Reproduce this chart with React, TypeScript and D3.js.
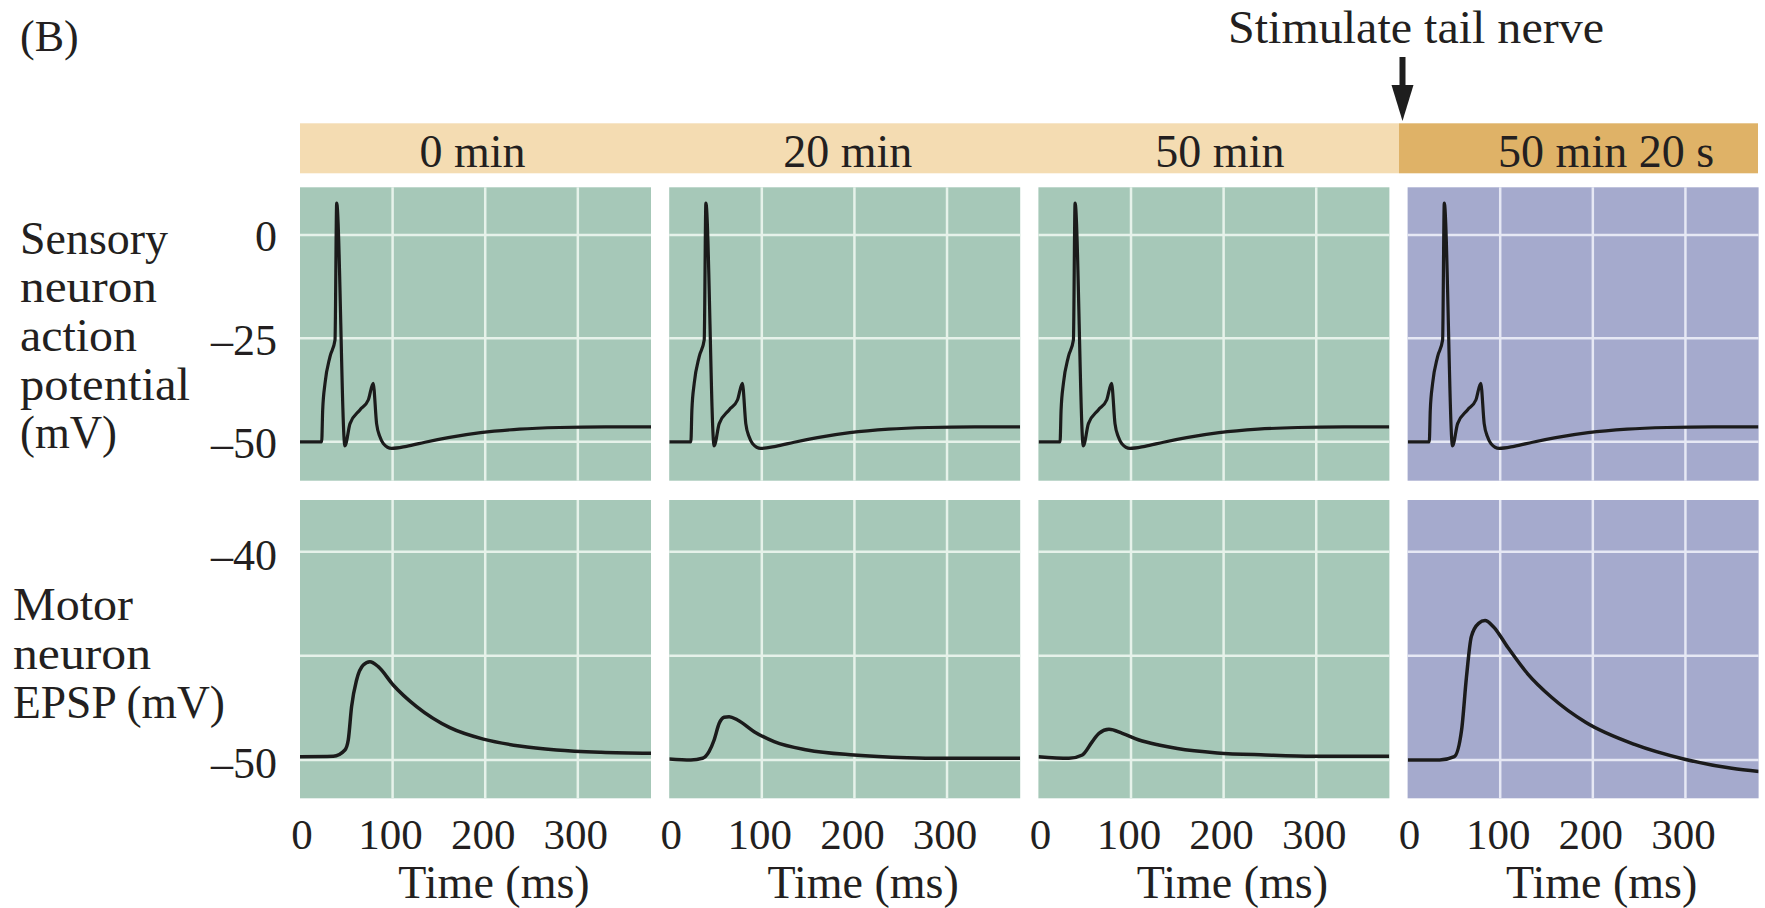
import React, { useEffect, useRef } from 'react';
import * as d3 from 'd3';

// header labels, one per recording
const panelLabels = ['0 min', '20 min', '50 min', '50 min 20 s'];
const timeTicks = [0, 100, 200, 300];
const apTickLabels = [0, -25, -50];
const epspTickLabels = [-40, -50];
const epspGridValues = [-40, -45, -50];

// sensory neuron action potential, [ms, mV] (same trace in each panel)
const actionPotential = [
  [0, -50], [23.4, -50], [24.5, -42.3], [27, -35.9], [32.4, -29.4], [37.8, -25.4],
  [39.6, 7.7], [48.5, -51], [54, -45.6], [64.7, -42.3], [73.7, -39.9], [79, -35.9],
  [82.7, -45.6], [86.3, -48.8], [89.9, -50.4], [98.9, -51.6], [115, -51.1],
  [135, -50.1], [160, -49.0], [195, -47.8], [237, -46.95], [280, -46.55],
  [330, -46.4], [379, -46.4],
];

// motor neuron EPSP, [ms, mV]
const epsp0min = [
  [0, -49.84], [36, -49.82], [48.5, -49.52], [52.1, -49.04], [55.7, -47.44], [61.1, -46.16],
  [68.3, -45.44], [75.5, -45.28], [84.5, -45.52], [100.6, -46.4], [125.9, -47.44],
  [161.8, -48.45], [198, -49.0], [237, -49.33], [277, -49.52], [325, -49.63], [379, -49.68],
];
const epsp20min = [
  [0, -49.95], [23.4, -50], [36, -49.92], [43, -49.6], [48.5, -49.04], [54, -48.24],
  [59.3, -47.95], [64.7, -47.92], [73.8, -48.08], [91.7, -48.64], [113.3, -49.12],
  [149, -49.52], [199.6, -49.76], [257, -49.89], [293, -49.92], [379, -49.92],
];
const epsp50min = [
  [0, -49.84], [33, -49.92], [47.4, -49.76], [58.2, -49.12], [65.4, -48.72], [76.2, -48.53],
  [90.6, -48.72], [108.6, -49.04], [130, -49.28], [150, -49.45], [193, -49.66],
  [245, -49.76], [297, -49.82], [379, -49.82],
];
const epsp50min20s = [
  [0, -50], [34.6, -50], [50.4, -49.84], [58.3, -48.56], [63.6, -46], [68.8, -44.08],
  [76.7, -43.44], [83.6, -43.31], [92.6, -43.6], [108.3, -44.6], [129.4, -45.85],
  [155.7, -47.0], [192.6, -48.2], [245, -49.25], [298, -49.95], [350, -50.4],
  [379.4, -50.55],
];
const epspTraces = [epsp0min, epsp20min, epsp50min, epsp50min20s];

function App() {
  const ref = useRef(null);

  useEffect(() => {
    const svg = d3.select(ref.current);
    svg.selectAll('*').remove();

    const font = '"Liberation Serif", "Times New Roman", serif';
    const ink = '#231f20';
    const left = 300;
    const panelW = 351;
    const step = 369.2;
    const apTop = 187.3, apBottom = 480.7;
    const epTop = 500, epBottom = 798.3;

    const x = d3.scaleLinear().domain([0, 379]).range([0, panelW]);
    const yAp = d3.scaleLinear().domain([-59.4, 11.5]).range([apBottom, apTop]);
    const yEp = d3.scaleLinear().domain([-51.84, -37.52]).range([epBottom, epTop]);

    const txt = (g, s, px, py, size, anchor = 'start') =>
      g.append('text')
        .attr('x', px).attr('y', py)
        .attr('font-family', font).attr('font-size', size)
        .attr('fill', ink).attr('text-anchor', anchor)
        .text(s);

    // (B) and stimulus arrow
    txt(svg, '(B)', 20, 51, 44);
    txt(svg, 'Stimulate tail nerve', 1416, 43, 46, 'middle')
      .attr('textLength', 376).attr('lengthAdjust', 'spacingAndGlyphs');
    svg.append('rect').attr('x', 1399.5).attr('y', 57).attr('width', 6).attr('height', 32).attr('fill', '#1e1e1e');
    svg.append('path').attr('d', 'M1391.5,85 L1413.5,85 L1402.5,121 Z').attr('fill', '#1e1e1e');

    // header bar
    svg.append('rect').attr('x', left).attr('y', 123.3).attr('width', 1399 - left).attr('height', 50)
      .attr('fill', '#f4dcb2');
    svg.append('rect').attr('x', 1399).attr('y', 123.3).attr('width', 1758 - 1399).attr('height', 50)
      .attr('fill', '#dfb267');
    const labelShift = [-3, 3, 6, 23];
    panelLabels.forEach((lab, i) => {
      txt(svg, lab, left + i * step + panelW / 2 + labelShift[i], 166.5, 46, 'middle');
    });

    // y-axis titles (widths follow the original lettering)
    const sensoryLines = [['Sensory', 148], ['neuron', 137], ['action', 117], ['potential', 170], ['(mV)', 97]];
    sensoryLines.forEach(([s, w], i) => {
      txt(svg, s, 20, 253.5 + i * 48.7, 46).attr('textLength', w).attr('lengthAdjust', 'spacingAndGlyphs');
    });
    const motorLines = [['Motor', 120], ['neuron', 138], ['EPSP (mV)', 212]];
    motorLines.forEach(([s, w], i) => {
      txt(svg, s, 13, 620 + i * 49, 46).attr('textLength', w).attr('lengthAdjust', 'spacingAndGlyphs');
    });

    // y tick labels
    apTickLabels.forEach((v) => {
      txt(svg, v === 0 ? '0' : '\u2013' + Math.abs(v), 277, yAp(v) + 1, 44, 'end').attr('dy', '0.35em');
    });
    epspTickLabels.forEach((v) => {
      txt(svg, '\u2013' + Math.abs(v), 277, yEp(v) + 3, 44, 'end').attr('dy', '0.35em');
    });

    const apLine = d3.line().x((d) => x(d[0])).y((d) => yAp(d[1])).curve(d3.curveMonotoneX);
    const epLine = d3.line().x((d) => x(d[0])).y((d) => yEp(d[1])).curve(d3.curveMonotoneX);

    panelLabels.forEach((_, i) => {
      const x0 = left + i * step;
      const g = svg.append('g').attr('transform', `translate(${x0},0)`);
      const fill = i === 3 ? '#a5aacd' : '#a6c8b8';
      const grid = i === 3 ? '#e6e8f4' : '#e6f2ea';

      const clipId = `clip-${i}`;
      const cp = svg.append('clipPath').attr('id', clipId);
      cp.append('rect').attr('x', 0).attr('y', apTop).attr('width', panelW).attr('height', apBottom - apTop);
      cp.append('rect').attr('x', 0).attr('y', epTop).attr('width', panelW).attr('height', epBottom - epTop);

      g.append('rect').attr('x', 0).attr('y', apTop).attr('width', panelW).attr('height', apBottom - apTop).attr('fill', fill);
      g.append('rect').attr('x', 0).attr('y', epTop).attr('width', panelW).attr('height', epBottom - epTop).attr('fill', fill);

      // grid
      timeTicks.filter((t) => t > 0).forEach((t) => {
        g.append('line').attr('x1', x(t)).attr('x2', x(t)).attr('y1', apTop).attr('y2', apBottom)
          .attr('stroke', grid).attr('stroke-width', 2.5);
        g.append('line').attr('x1', x(t)).attr('x2', x(t)).attr('y1', epTop).attr('y2', epBottom)
          .attr('stroke', grid).attr('stroke-width', 2.5);
      });
      apTickLabels.forEach((v) => {
        g.append('line').attr('x1', 0).attr('x2', panelW).attr('y1', yAp(v)).attr('y2', yAp(v))
          .attr('stroke', grid).attr('stroke-width', 2.5);
      });
      epspGridValues.forEach((v) => {
        g.append('line').attr('x1', 0).attr('x2', panelW).attr('y1', yEp(v)).attr('y2', yEp(v))
          .attr('stroke', grid).attr('stroke-width', 2.5);
      });

      // traces
      const tr = g.append('g').attr('clip-path', `url(#${clipId})`);
      tr.append('path').attr('d', apLine(actionPotential)).attr('fill', 'none')
        .attr('stroke', '#1b1b1b').attr('stroke-width', 3.2).attr('stroke-linejoin', 'miter');
      tr.append('path').attr('d', epLine(epspTraces[i])).attr('fill', 'none')
        .attr('stroke', '#1b1b1b').attr('stroke-width', 3.5);

      // time axis
      timeTicks.forEach((t) => {
        txt(g, String(t), x(t) + (t === 0 ? 2 : -2), 848.5, 43, 'middle');
      });
      txt(g, 'Time (ms)', 194, 898, 46, 'middle');
    });
  }, []);

  return (
    <svg
      ref={ref}
      width={1765}
      height={908}
      style={{ position: 'absolute', left: 0, top: 0, background: '#fff' }}
    />
  );
}

export default App;
